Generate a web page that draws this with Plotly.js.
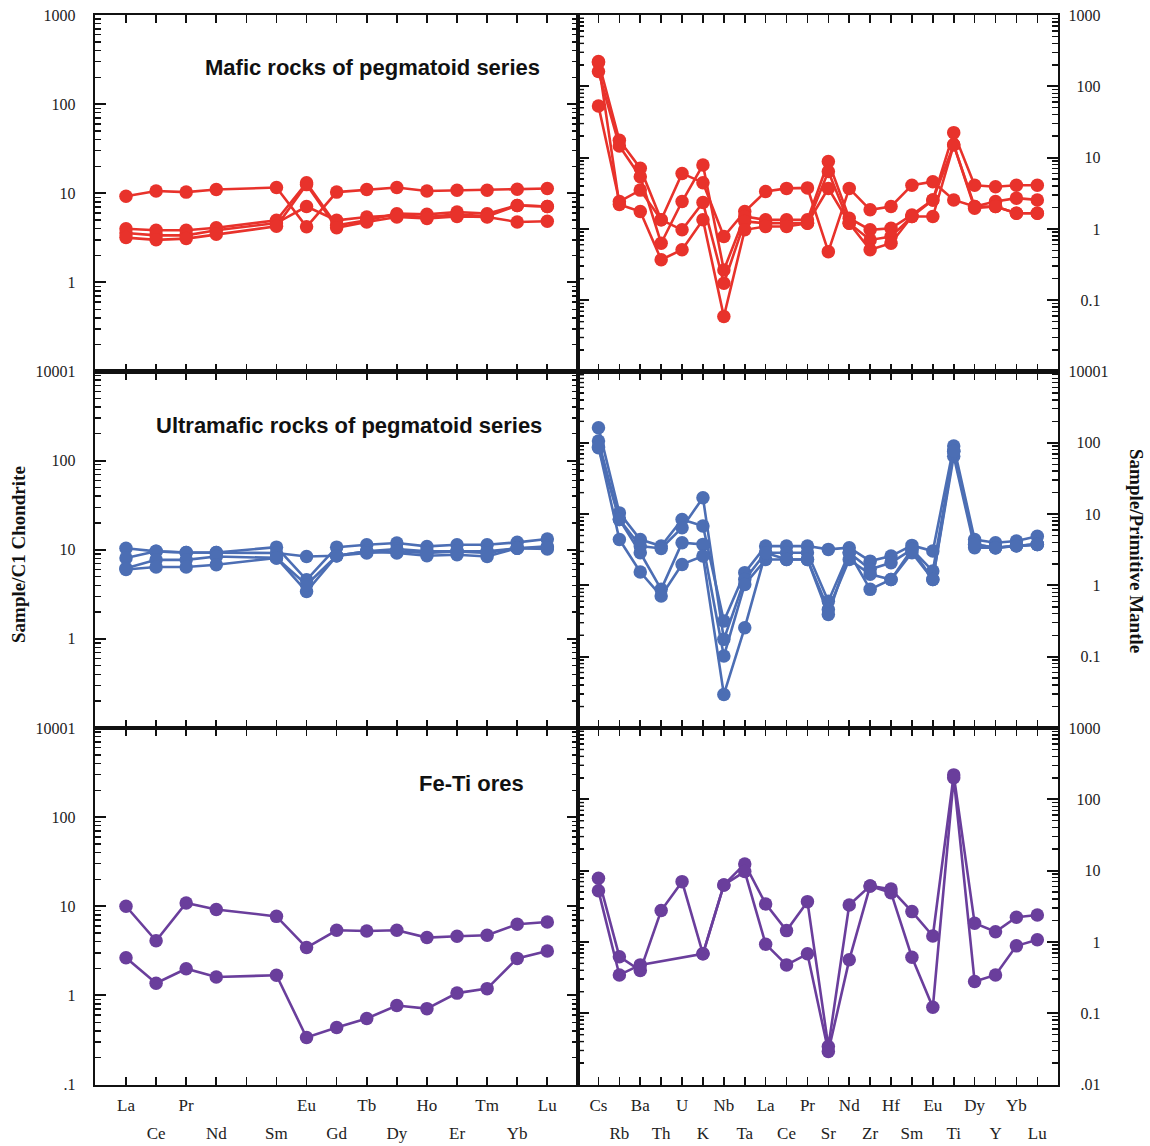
<!DOCTYPE html>
<html>
<head>
<meta charset="utf-8">
<script src="https://cdn.plot.ly/plotly-3.0.1.min.js"></script>
<style>
  html, body { margin: 0; padding: 0; background: #ffffff; }
  #chart { width: 1150px; height: 1146px; }
</style>
</head>
<body>
<div id="chart"></div>
<script>
// ---------- categories ----------
const REE_SLOTS = ['La','Ce','Pr','Nd','Pm','Sm','Eu','Gd','Tb','Dy','Ho','Er','Tm','Yb','Lu'];
const REE = ['La','Ce','Pr','Nd','Sm','Eu','Gd','Tb','Dy','Ho','Er','Tm','Yb','Lu'];
const SPIDER = ['Cs','Rb','Ba','Th','U','K','Nb','Ta','La','Ce','Pr','Sr','Nd','Zr','Hf','Sm','Eu','Ti','Dy','Y','Yb','Lu'];

// ---------- Mafic rocks of pegmatoid series ----------
const maficREE1 = [9.25,10.6,10.3,11.0,11.6,4.2,10.3,11.0,11.6,10.6,10.8,10.8,11.1,11.3];
const maficREE2 = [4.0,3.84,3.84,4.1,4.97,13.1,4.37,4.97,5.9,5.8,6.16,5.9,7.3,7.1];
const maficREE3 = [3.58,3.37,3.37,3.84,4.63,7.1,4.97,5.42,5.65,5.42,5.8,5.5,7.3,7.1];
const maficREE4 = [3.18,3.0,3.1,3.46,4.26,12.5,4.1,4.76,5.42,5.2,5.5,5.42,4.76,4.85];

const maficPM1 = [222,17.5,7.1,1.34,6.0,4.45,0.78,1.75,3.34,3.7,3.76,0.48,3.7,1.85,2.06,4.1,4.6,2.55,2.06,2.42,2.7,2.55];
const maficPM2 = [161,14.6,5.4,0.63,2.42,7.9,0.266,1.49,1.34,1.34,1.34,8.8,1.41,0.97,1.02,1.57,2.55,22.4,4.1,3.9,4.1,4.1];
const maficPM3 = [53,2.42,3.5,1.34,0.97,2.34,0.173,1.27,1.2,1.2,1.2,6.4,1.2,0.70,0.78,1.49,1.49,15.1,2.06,2.06,1.66,1.66];
const maficPM4 = [215,2.2,1.75,0.37,0.51,1.34,0.059,0.97,1.08,1.08,1.2,3.7,1.2,0.51,0.63,1.49,2.55,15.1,1.95,2.06,1.66,1.66];

// ---------- Ultramafic rocks of pegmatoid series ----------
const ultraREE1 = [10.4,9.6,9.3,9.3,10.7,4.6,10.7,11.4,11.9,10.9,11.4,11.4,12.1,13.2];
const ultraREE2 = [8.07,9.6,9.3,9.3,9.2,8.4,8.55,9.6,10.2,9.6,9.6,9.6,10.4,10.9];
const ultraREE3 = [6.2,7.7,7.7,8.4,8.1,3.4,8.55,9.6,9.2,8.55,8.8,8.4,10.4,10.2];
const ultraREE4 = [6.0,6.4,6.4,6.8,8.1,4.05,8.55,9.2,9.6,9.2,9.6,9.2,10.4,10.5];

const ultraPM1 = [163,10.4,4.4,3.56,8.4,6.8,0.316,1.51,3.56,3.56,3.56,3.2,3.38,2.19,2.58,3.64,3.03,90,4.4,3.97,4.2,4.9];
const ultraPM2 = [106,8.4,3.56,3.3,6.45,17.0,0.175,1.21,2.87,2.87,2.87,0.60,2.87,1.68,2.08,3.2,1.59,76,3.76,3.38,3.6,3.76];
const ultraPM3 = [85,8.4,2.87,0.88,3.97,3.76,0.102,1.03,2.31,2.31,2.31,0.46,2.31,1.43,1.21,2.87,1.21,65,3.38,3.38,3.6,3.76];
const ultraPM4 = [88,4.4,1.54,0.71,1.97,2.58,0.0296,0.255,2.87,2.31,2.31,0.39,2.87,0.88,1.21,3.2,1.21,76,3.76,3.38,3.6,3.76];

// ---------- Fe-Ti ores ----------
const feREE1 = [10.0,4.1,10.9,9.2,7.7,3.44,5.37,5.28,5.37,4.45,4.6,4.72,6.27,6.66];
const feREE2 = [2.65,1.37,1.99,1.61,1.68,0.337,0.437,0.55,0.77,0.71,1.06,1.19,2.6,3.15];

const fePM1 = [7.8,0.62,0.396,2.75,7.0,0.68,6.3,12.4,3.41,1.44,3.67,0.034,3.3,6.1,5.5,2.66,1.21,220,1.83,1.39,2.22,2.39];
const fePM2 = [5.2,0.344,0.476,null,null,0.68,6.3,9.7,0.93,0.476,0.68,0.029,0.56,6.1,4.9,0.61,0.121,200,0.278,0.344,0.88,1.07];

// ---------- axis tick labels ----------
const FS = '\u2007', PS = '\u2008'; // figure space / punctuation space (for right-aligned labels)
const leftTickVals = [0.1,1,10,100,1000];
const leftTickTextTop = ['','1','10','100','1000'];
const leftTickTextMid = ['','1','10','100','10001'];
const leftTickTextBot = ['.1','1','10','100','10001'];
const rightTickVals = [0.01,0.1,1,10,100,1000];
const rightTickTextTop = ['', FS+PS+'0.1', FS+FS+FS+'1', FS+FS+'10', FS+'100', '1000'];
const rightTickTextMid = ['', FS+PS+'0.1', FS+FS+FS+'1', FS+FS+'10', FS+'100', '10001'];
const rightTickTextBot = [FS+PS+'.01', FS+PS+'0.1', FS+FS+FS+'1', FS+FS+'10', FS+'100', '1000'];

// ---------- styling ----------
const RED = '#E8322B', BLUE = '#4C6EB4', PURPLE = '#6A3E9C';
const W = 1150, H = 1146;
const px = v => v / W;
const py = v => 1 - v / H;

const xL = [px(95), px(578)];
const xR = [px(578), px(1058)];
const rows = [[py(371.5), py(15)], [py(728), py(371.5)], [py(1084.5), py(728)]];

const reeX = REE.map(e => REE_SLOTS.indexOf(e));
const spX = SPIDER.map((e, i) => i);

function tr(x, y, xa, ya, color, gaps) {
  return {
    type: 'scatter', mode: 'lines+markers', x: x, y: y,
    xaxis: xa, yaxis: ya, connectgaps: !!gaps,
    line: {color: color, width: 2.6},
    marker: {color: color, size: 13.5},
    hoverinfo: 'skip', showlegend: false, cliponaxis: false
  };
}
function helper(xa, ya) {
  return {type: 'scatter', mode: 'markers', x: [], y: [], xaxis: xa, yaxis: ya,
          hoverinfo: 'skip', showlegend: false};
}

const data = [
  tr(reeX, maficREE1, 'x', 'y', RED), tr(reeX, maficREE2, 'x', 'y', RED),
  tr(reeX, maficREE3, 'x', 'y', RED), tr(reeX, maficREE4, 'x', 'y', RED),
  tr(spX, maficPM1, 'x2', 'y2', RED), tr(spX, maficPM2, 'x2', 'y2', RED),
  tr(spX, maficPM3, 'x2', 'y2', RED), tr(spX, maficPM4, 'x2', 'y2', RED),
  tr(reeX, ultraREE1, 'x3', 'y3', BLUE), tr(reeX, ultraREE2, 'x3', 'y3', BLUE),
  tr(reeX, ultraREE3, 'x3', 'y3', BLUE), tr(reeX, ultraREE4, 'x3', 'y3', BLUE),
  tr(spX, ultraPM1, 'x4', 'y4', BLUE), tr(spX, ultraPM2, 'x4', 'y4', BLUE),
  tr(spX, ultraPM3, 'x4', 'y4', BLUE), tr(spX, ultraPM4, 'x4', 'y4', BLUE),
  tr(reeX, feREE1, 'x5', 'y5', PURPLE), tr(reeX, feREE2, 'x5', 'y5', PURPLE),
  tr(spX, fePM1, 'x6', 'y6', PURPLE), tr(spX, fePM2, 'x6', 'y6', PURPLE, true),
  helper('x7', 'y5'), helper('x8', 'y6')
];

const tickFont = {family: 'Liberation Serif, Times New Roman, serif', size: 16, color: '#222'};
const labFont = {family: 'Liberation Serif, Times New Roman, serif', size: 17, color: '#222'};

function minorVals(lo, hi) {
  const v = [];
  for (let e = lo; e < hi; e++) for (let d = 2; d <= 9; d++) v.push(d * Math.pow(10, e));
  return v;
}

function xAxis(domain, anchor, range, slots, showLabels) {
  const idx = slots.map((s, i) => i);
  return {
    domain: domain, anchor: anchor, range: range,
    showline: true, linecolor: '#111', linewidth: 2.2, mirror: 'ticks',
    ticks: 'inside', ticklen: 8, tickwidth: 1.6, tickcolor: '#111',
    tickmode: 'array', tickvals: idx,
    ticktext: idx.map(i => (showLabels && i % 2 === 0 && slots[i] !== 'Pm') ? slots[i] : ''),
    showticklabels: !!showLabels, ticklabelstandoff: 4,
    tickfont: labFont, showgrid: false, zeroline: false, fixedrange: true
  };
}
function xAxisLower(over, anchor, range, slots) {
  const idx = slots.map((s, i) => i).filter(i => i % 2 === 1);
  return {
    overlaying: over, anchor: anchor, side: 'bottom', range: range,
    showline: false, ticks: '', tickmode: 'array', tickvals: idx,
    ticktext: idx.map(i => slots[i]), ticklabelstandoff: 36,
    tickfont: labFont, showgrid: false, zeroline: false, fixedrange: true
  };
}
function yAxisLeft(domain, anchor, text) {
  return {
    domain: domain, anchor: anchor, type: 'log', range: [-1, 3], side: 'left',
    showline: true, linecolor: '#111', linewidth: 2.2, mirror: 'ticks',
    ticks: 'inside', ticklen: 11, tickwidth: 2, tickcolor: '#111',
    tickmode: 'array', tickvals: leftTickVals, ticktext: text,
    minor: {ticks: 'inside', ticklen: 6, tickwidth: 1.4, tickcolor: '#111', tickmode: 'array', tickvals: minorVals(-1, 3), showgrid: false},
    ticklabelstandoff: 14, tickfont: tickFont,
    showgrid: false, zeroline: false, fixedrange: true
  };
}
const RIGHT_RANGE = [-2, 3];
function yAxisRight(domain, anchor, text) {
  return {
    domain: domain, anchor: anchor, type: 'log', range: RIGHT_RANGE, side: 'right',
    showline: true, linecolor: '#111', linewidth: 2.2, mirror: 'ticks',
    ticks: 'inside', ticklen: 11, tickwidth: 2, tickcolor: '#111',
    tickmode: 'array', tickvals: rightTickVals, ticktext: text,
    minor: {ticks: 'inside', ticklen: 6, tickwidth: 1.4, tickcolor: '#111', tickmode: 'array', tickvals: minorVals(-2, 3), showgrid: false},
    ticklabelstandoff: 5, tickfont: tickFont,
    showgrid: false, zeroline: false, fixedrange: true
  };
}

// minor ticks along the left edge of the right-hand panels (axis mirroring only repeats major ticks)
const mirrorMinorShapes = [];
['2', '4', '6'].forEach(id => {
  minorVals(-2, 3).forEach(v => {
    const f = (Math.log10(v) - RIGHT_RANGE[0]) / (RIGHT_RANGE[1] - RIGHT_RANGE[0]);
    mirrorMinorShapes.push({
      type: 'line', xref: 'x' + id + ' domain', yref: 'y' + id + ' domain',
      x0: 0, x1: 6 / 480, y0: f, y1: f, layer: 'above',
      line: {color: '#111', width: 1.4}
    });
  });
});

const rangeL = [-1.03, 15.02];
const rangeR = [-0.98, 21.99];

const titleFont = {family: 'Liberation Sans, Arial, sans-serif', size: 22, color: '#111', weight: 700};
const axTitleFont = {family: 'Liberation Serif, Times New Roman, serif', size: 19, color: '#111', weight: 700};

const layout = {
  width: W, height: H,
  margin: {l: 0, r: 0, t: 0, b: 0, pad: 0},
  paper_bgcolor: '#ffffff', plot_bgcolor: 'rgba(0,0,0,0)',
  showlegend: false,
  xaxis: xAxis(xL, 'y', rangeL, REE_SLOTS, false),
  yaxis: yAxisLeft(rows[0], 'x', leftTickTextTop),
  xaxis2: xAxis(xR, 'y2', rangeR, SPIDER, false),
  yaxis2: yAxisRight(rows[0], 'x2', rightTickTextTop),
  xaxis3: xAxis(xL, 'y3', rangeL, REE_SLOTS, false),
  yaxis3: yAxisLeft(rows[1], 'x3', leftTickTextMid),
  xaxis4: xAxis(xR, 'y4', rangeR, SPIDER, false),
  yaxis4: yAxisRight(rows[1], 'x4', rightTickTextMid),
  xaxis5: xAxis(xL, 'y5', rangeL, REE_SLOTS, true),
  yaxis5: yAxisLeft(rows[2], 'x5', leftTickTextBot),
  xaxis6: xAxis(xR, 'y6', rangeR, SPIDER, true),
  yaxis6: yAxisRight(rows[2], 'x6', rightTickTextBot),
  xaxis7: xAxisLower('x5', 'y5', rangeL, REE_SLOTS),
  xaxis8: xAxisLower('x6', 'y6', rangeR, SPIDER),
  shapes: mirrorMinorShapes,
  annotations: [
    {xref: 'paper', yref: 'paper', x: px(542), y: py(67), xanchor: 'right', yanchor: 'middle',
     text: 'Mafic rocks of pegmatoid series', showarrow: false, font: titleFont},
    {xref: 'paper', yref: 'paper', x: px(544), y: py(425), xanchor: 'right', yanchor: 'middle',
     text: 'Ultramafic rocks of pegmatoid series', showarrow: false, font: titleFont},
    {xref: 'paper', yref: 'paper', x: px(526), y: py(783), xanchor: 'right', yanchor: 'middle',
     text: 'Fe-Ti ores', showarrow: false, font: titleFont},
    {xref: 'paper', yref: 'paper', x: px(19), y: py(555), xanchor: 'center', yanchor: 'middle',
     text: 'Sample/C1 Chondrite', textangle: -90, showarrow: false, font: axTitleFont},
    {xref: 'paper', yref: 'paper', x: px(1137), y: py(551), xanchor: 'center', yanchor: 'middle',
     text: 'Sample/Primitive Mantle', textangle: 90, showarrow: false, font: axTitleFont}
  ]
};

Plotly.newPlot('chart', data, layout, {displayModeBar: false, staticPlot: true});
</script>
</body>
</html>
